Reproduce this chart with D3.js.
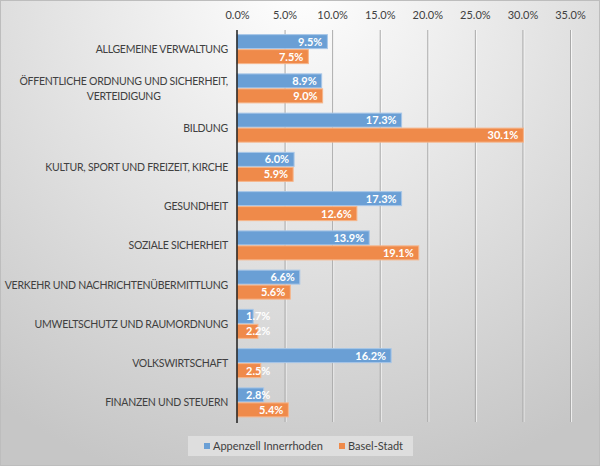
<!DOCTYPE html>
<html><head><meta charset="utf-8">
<script src="https://cdn.jsdelivr.net/npm/d3@7"></script>
<style>body{margin:0;padding:0;overflow:hidden;background:#fff}svg{display:block}</style>
</head><body>
<svg id="c" width="600" height="466"></svg>
<script>
const categories = [
  ["ALLGEMEINE VERWALTUNG"],
  ["ÖFFENTLICHE ORDNUNG UND SICHERHEIT,", "VERTEIDIGUNG"],
  ["BILDUNG"],
  ["KULTUR, SPORT UND FREIZEIT, KIRCHE"],
  ["GESUNDHEIT"],
  ["SOZIALE SICHERHEIT"],
  ["VERKEHR UND NACHRICHTENÜBERMITTLUNG"],
  ["UMWELTSCHUTZ UND RAUMORDNUNG"],
  ["VOLKSWIRTSCHAFT"],
  ["FINANZEN UND STEUERN"]
];
const seriesNames = ["Appenzell Innerrhoden", "Basel-Stadt"];
const appenzell = [9.5, 8.9, 17.3, 6.0, 17.3, 13.9, 6.6, 1.7, 16.2, 2.8];
const baselStadt = [7.5, 9.0, 30.1, 5.9, 12.6, 19.1, 5.6, 2.2, 2.5, 5.4];
const tickValues = [0, 5, 10, 15, 20, 25, 30, 35];

(function(){
const W = 600, H = 466;
const svg = d3.select("#c");
const font = "Lato, 'Open Sans', sans-serif";

const defs = svg.append("defs");
const rg = defs.append("radialGradient").attr("id","bg")
  .attr("gradientUnits","userSpaceOnUse").attr("cx",300).attr("cy",-20).attr("r",520);
rg.append("stop").attr("offset","0%").attr("stop-color","#ffffff");
rg.append("stop").attr("offset","100%").attr("stop-color","#c6c6c6");
svg.append("rect").attr("x",0).attr("y",0).attr("width",W).attr("height",H).attr("fill","url(#bg)");
svg.append("rect").attr("x",0.5).attr("y",0.5).attr("width",W-1).attr("height",H-1)
  .attr("fill","none").attr("stroke","#bdbdbd");

const x = d3.scaleLinear().domain([0,35]).range([237, 570]);
const y = d3.scaleBand().domain(d3.range(categories.length)).range([29.5, 422]).paddingInner(0).paddingOuter(0);
const plotTop = 30, plotBottom = 422;

const grid = svg.append("g");
tickValues.filter(t=>t>0).forEach(t=>{
  grid.append("line").attr("x1",x(t)+1.5).attr("x2",x(t)+1.5).attr("y1",plotTop).attr("y2",plotBottom)
    .attr("stroke","#ffffff").attr("stroke-opacity",0.7);
  grid.append("line").attr("x1",x(t)+0.5).attr("x2",x(t)+0.5).attr("y1",plotTop).attr("y2",plotBottom)
    .attr("stroke","#a9a9a9");
});

const axis = d3.axisTop(x).tickValues(tickValues).tickFormat(d=>d3.format(".1f")(d)+"%").tickSize(0).tickPadding(0);
const ag = svg.append("g").attr("transform","translate(0,19)").call(axis);
ag.select(".domain").remove();
ag.selectAll("text").attr("font-family",font).attr("font-size","11px").attr("fill","#404040").attr("dy","0");

const barH = 14, gap = 1;
const series = [
  {name: seriesNames[0], values: appenzell, fill:"#6a9fd5", stroke:"#a7c6e8", off:-barH-gap/2},
  {name: seriesNames[1], values: baselStadt, fill:"#ef8a4a", stroke:"#f6b58a", off:gap/2}
];
const bars = svg.append("g");
const labels = svg.append("g");
series.forEach(s=>{
  s.values.forEach((v,i)=>{
    const cy = y(i) + y.bandwidth()/2;
    const yy = cy + s.off;
    bars.append("rect").attr("x",x(0)).attr("y",yy).attr("width",x(v)-x(0)).attr("height",barH)
      .attr("fill",s.fill).attr("stroke",s.stroke).attr("stroke-width",1);
    const t = labels.append("text").text(d3.format(".1f")(v)+"%")
      .attr("font-family",font).attr("font-size","11px").attr("font-weight","bold").attr("fill","#ffffff")
      .attr("y", yy + barH/2 + 4);
    const w = t.node().getComputedTextLength();
    const sx = Math.max(x(v) - 5 - w, x(0) + 9);
    t.attr("x", sx);
  });
});

svg.append("line").attr("x1",x(0)).attr("x2",x(0)).attr("y1",plotTop).attr("y2",plotBottom+1)
  .attr("stroke","#1e1e1e").attr("stroke-width",1.5);

const cg = svg.append("g");
categories.forEach((lines,i)=>{
  const cy = y(i) + y.bandwidth()/2;
  const lh = 14.5;
  const g = cg.append("g");
  const texts = lines.map((ln,k)=> g.append("text").text(ln)
    .attr("font-family",font).attr("font-size","10.5px").attr("letter-spacing","-0.25px").attr("fill","#404040")
    .attr("y", cy - (lines.length-1)*lh/2 + k*lh + 4));
  const widths = texts.map(t=>t.node().getComputedTextLength());
  const maxW = d3.max(widths);
  const right = 228;
  texts.forEach(t=> t.attr("x", right - maxW/2).attr("text-anchor","middle"));
});

const lg = svg.append("g");
lg.append("rect").attr("x",188).attr("y",436).attr("width",225).attr("height",20).attr("fill","#dedede");
const items = [{name:seriesNames[0],color:"#6a9fd5",x:204},{name:seriesNames[1],color:"#ef8a4a",x:339}];
items.forEach(it=>{
  lg.append("rect").attr("x",it.x).attr("y",443).attr("width",6).attr("height",6).attr("fill",it.color);
  lg.append("text").text(it.name).attr("x",it.x+9).attr("y",450)
    .attr("font-family",font).attr("font-size","11px").attr("fill","#404040");
});
})();
</script>
</body></html>
